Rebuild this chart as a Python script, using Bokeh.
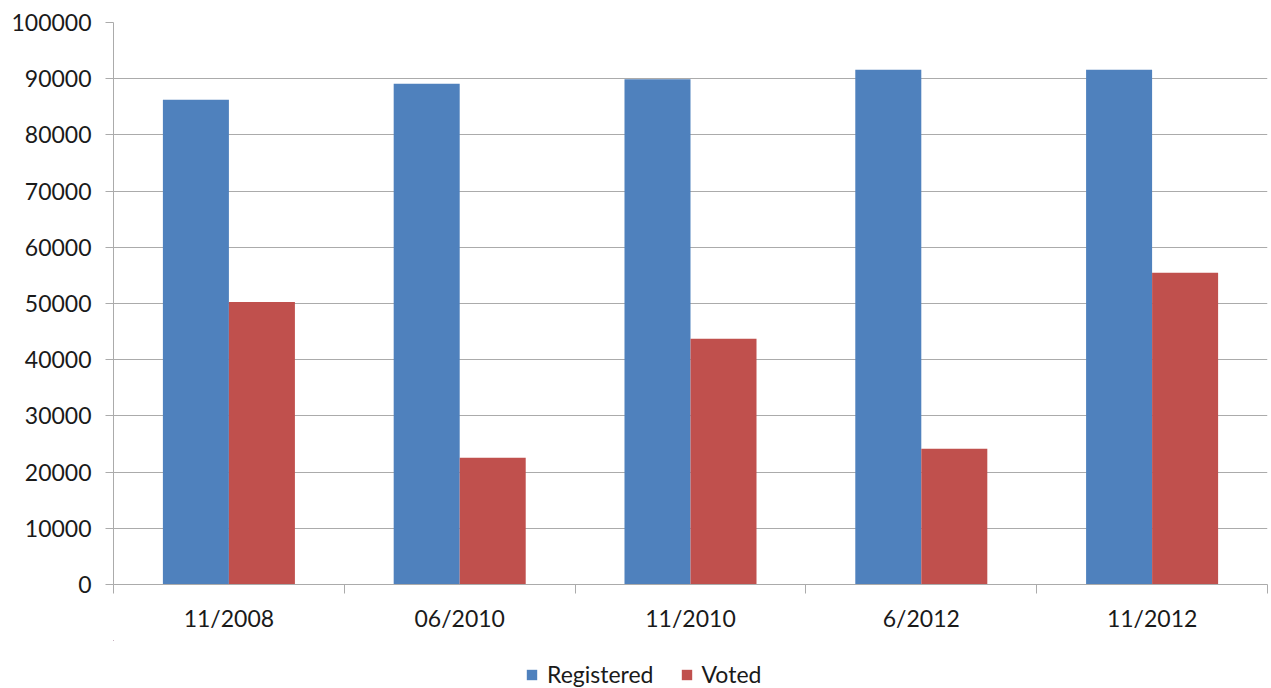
from bokeh.plotting import figure
from bokeh.models import ColumnDataSource, FixedTicker, Range1d, Legend, LegendItem
from bokeh.layouts import column
from bokeh.transform import dodge
from bokeh.embed import file_html
from bokeh.resources import INLINE

categories = ["11/2008", "06/2010", "11/2010", "6/2012", "11/2012"]
registered = [86250, 89100, 89900, 91600, 91600]
voted = [50250, 22550, 43750, 24150, 55450]
series = ["Registered", "Voted"]
y_ticks = [0, 10000, 20000, 30000, 40000, 50000, 60000, 70000, 80000, 90000, 100000]

BLUE = "#4F81BD"
RED = "#C0504D"
FONT = "Lato"
TXT = "#1a1a1a"
GRID = "#ababab"

xc = [i + 0.5 for i in range(len(categories))]
src = ColumnDataSource(dict(x=xc, reg=registered, vot=voted))

p = figure(width=1270, height=640, output_backend="svg", toolbar_location=None,
           x_range=Range1d(0, len(categories)), y_range=Range1d(0, 100000),
           min_border_left=113, min_border_top=22, min_border_right=3, min_border_bottom=56,
           frame_width=1154, frame_height=562)
p.outline_line_color = None
p.background_fill_color = "white"

bw = 0.286
p.vbar(x=dodge("x", -bw / 2), top="reg", width=bw, source=src, fill_color=BLUE, line_color=None)
p.vbar(x=dodge("x", bw / 2), top="vot", width=bw, source=src, fill_color=RED, line_color=None)

# y axis
p.yaxis.ticker = FixedTicker(ticks=y_ticks)
p.yaxis.axis_line_color = GRID
p.yaxis.major_tick_line_color = GRID
p.yaxis.major_tick_out = 8
p.yaxis.major_tick_in = 0
p.yaxis.minor_tick_line_color = None
p.yaxis.major_label_standoff = 14
p.yaxis.major_label_text_font = FONT
p.yaxis.major_label_text_font_size = "23px"
p.yaxis.major_label_text_color = TXT
p.yaxis.formatter.use_scientific = False

# x axis: ticks at boundaries (minor), labels at centres (major, invisible tick)
p.xaxis.ticker = FixedTicker(ticks=xc, minor_ticks=list(range(len(categories) + 1)))
p.xaxis.major_label_overrides = {x: c for x, c in zip(xc, categories)}
p.xaxis.axis_line_color = GRID
p.xaxis.major_tick_line_color = None
p.xaxis.major_tick_out = 8
p.xaxis.major_tick_in = 0
p.xaxis.minor_tick_line_color = GRID
p.xaxis.minor_tick_out = 9
p.xaxis.minor_tick_in = 0
p.xaxis.major_label_standoff = 10
p.xaxis.major_label_text_font = FONT
p.xaxis.major_label_text_font_size = "23px"
p.xaxis.major_label_text_color = TXT

p.xgrid.grid_line_color = None
p.ygrid.ticker = FixedTicker(ticks=y_ticks)
p.ygrid.grid_line_color = GRID
p.ygrid.grid_line_width = 1

# legend strip below the chart (its key renderers lie outside its visible range)
lg = figure(width=1270, height=48, output_backend="svg", toolbar_location=None,
            x_range=Range1d(100, 105), y_range=Range1d(-2, -1),
            x_axis_location=None, y_axis_location=None,
            min_border_left=0, min_border_right=0, min_border_top=0, min_border_bottom=0)
lg.outline_line_color = None
lg.xgrid.grid_line_color = None
lg.ygrid.grid_line_color = None
k1 = lg.vbar(x=dodge("x", -bw / 2), top="reg", width=bw, source=src, fill_color=BLUE, line_color=None)
k2 = lg.vbar(x=dodge("x", bw / 2), top="vot", width=bw, source=src, fill_color=RED, line_color=None)
legend = Legend(items=[LegendItem(label=series[0], renderers=[k1]),
                       LegendItem(label=series[1], renderers=[k2])],
                orientation="horizontal", location=(412, 0),
                glyph_width=13, glyph_height=13, label_standoff=9, spacing=26,
                padding=0, margin=0, border_line_color=None, background_fill_alpha=0,
                label_text_font=FONT, label_text_font_size="23px", label_text_color=TXT)
lg.add_layout(legend, "center")

open("out.html", "w").write(file_html(column(p, lg, spacing=0), INLINE))
